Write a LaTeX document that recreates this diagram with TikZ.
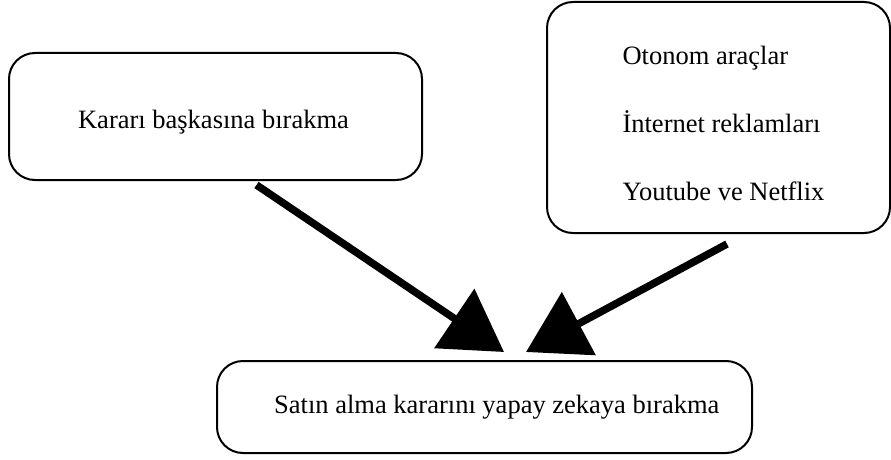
\documentclass[tikz,border=0pt]{standalone}
\usepackage{fontspec}
\setmainfont{Liberation Serif}
\usetikzlibrary{positioning,arrows.meta}

\begin{document}
\begin{tikzpicture}[x=1pt,y=1pt,font=\fontsize{26.5}{31}\selectfont]
    \tikzset{kutu/.style={rounded corners=26pt,line width=2pt,draw,inner sep=0pt},
             yazi/.style={align=left,inner sep=0pt},
             ok/.style={-{Triangle[length=60pt,width=70pt]},line width=7.5pt}}
    \useasboundingbox (0,0) rectangle (891,459);
    \node[kutu,minimum width=413pt,minimum height=127pt] (kisi) at (215.5,342.5) {};
    \node[kutu,minimum width=535pt,minimum height=92pt] (karar) at (484.5,52) {};
    \node[kutu,minimum width=343pt,minimum height=231pt] (ornek) at (718.5,341.5) {};
    \node[yazi] (kisiyazi) at ([xshift=-2pt,yshift=-6pt]kisi.center) {Kararı başkasına bırakma};
    \node[yazi,font=\fontsize{26.5}{68}\selectfont] (ornekyazi) at ([xshift=5pt,yshift=-6pt]ornek.center) {Otonom araçlar\\İnternet reklamları\\Youtube ve Netflix};
    \node[yazi,anchor=west] (kararyazi) at ([xshift=58pt]karar.west) {Satın alma kararını yapay zekaya bırakma};
    \draw[ok] ([xshift=41pt,yshift=-4pt]kisi.south) -- ([xshift=288pt,yshift=8pt]karar.north west);
    \draw[ok] ([xshift=181pt,yshift=-10pt]ornek.south west) -- ([xshift=310pt,yshift=8pt]karar.north west);
  \end{tikzpicture}
\end{document}
